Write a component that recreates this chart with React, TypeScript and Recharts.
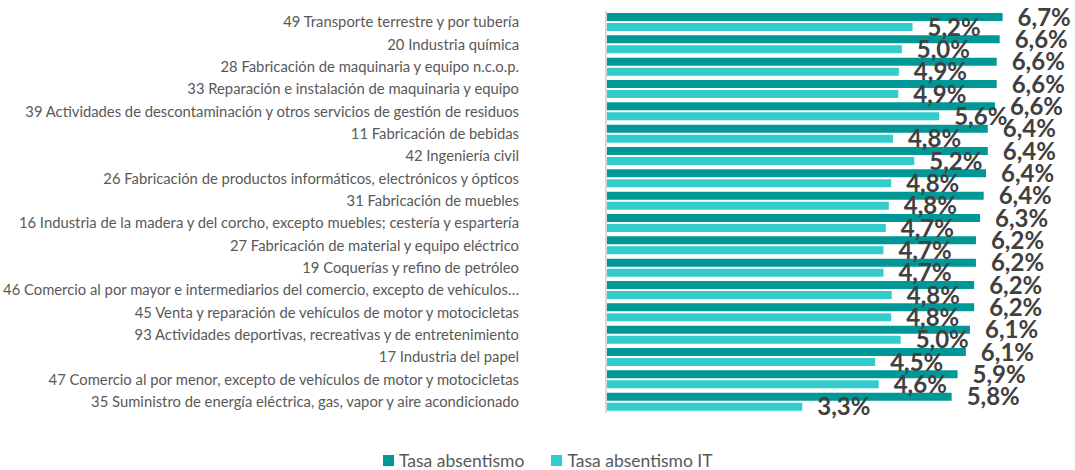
import * as React from "react";
import { BarChart, Bar, XAxis, YAxis, Legend, LabelList } from "recharts";

// Sectores (CNAE), ordenados por tasa de absentismo
const categories = [
  "49 Transporte terrestre y por tubería",
  "20 Industria química",
  "28 Fabricación de maquinaria y equipo n.c.o.p.",
  "33 Reparación e instalación de maquinaria y equipo",
  "39 Actividades de descontaminación y otros servicios de gestión de residuos",
  "11 Fabricación de bebidas",
  "42 Ingeniería civil",
  "26 Fabricación de productos informáticos, electrónicos y ópticos",
  "31 Fabricación de muebles",
  "16 Industria de la madera y del corcho, excepto muebles; cestería y espartería",
  "27 Fabricación de material y equipo eléctrico",
  "19 Coquerías y refino de petróleo",
  "46 Comercio al por mayor e intermediarios del comercio, excepto de vehículos…",
  "45 Venta y reparación de vehículos de motor y motocicletas",
  "93 Actividades deportivas, recreativas y de entretenimiento",
  "17 Industria del papel",
  "47 Comercio al por menor, excepto de vehículos de motor y motocicletas",
  "35 Suministro de energía eléctrica, gas, vapor y aire acondicionado",
];

const tasaAbsentismo = [
  6.69, 6.64, 6.59, 6.59, 6.56, 6.44, 6.44, 6.41, 6.37, 6.31, 6.24, 6.24, 6.21, 6.21, 6.14, 6.07, 5.93, 5.83,
];

const tasaAbsentismoIT = [
  5.17, 4.99, 4.94, 4.93, 5.62, 4.84, 5.2, 4.81, 4.77, 4.72, 4.68, 4.68, 4.82, 4.81, 4.97, 4.54, 4.6, 3.31,
];

const series = [
  { key: "abs", name: "Tasa absentismo", color: "#009797" },
  { key: "absIT", name: "Tasa absentismo IT", color: "#33CCCC" },
];

const data = categories.map((name, i) => ({
  name,
  abs: tasaAbsentismo[i],
  absIT: tasaAbsentismoIT[i],
}));

const fmt = (v: any) => `${Number(v).toFixed(1).replace(".", ",")}%`;

const LegendContent = () => (
  <div style={{ display: "flex", alignItems: "center", paddingLeft: 383, fontFamily: "Lato, sans-serif" }}>
    {series.map((s, i) => (
      <div key={s.key} style={{ display: "flex", alignItems: "center", marginRight: i === 0 ? 27 : 0 }}>
        <span style={{ width: 11, height: 11, background: s.color, display: "inline-block", marginRight: 5 }} />
        <span style={{ fontSize: 17.5, color: "#595959" }}>{s.name}</span>
      </div>
    ))}
  </div>
);

export default function App() {
  return (
    <div style={{ position: "absolute", left: 0, top: 0, width: 1075, height: 470, background: "#fff" }}>
      <BarChart
        width={1075}
        height={470}
        data={data}
        layout="vertical"
        margin={{ top: 11, right: 54, left: 0, bottom: 37 }}
        barSize={8}
        barGap={2}
      >
        <XAxis type="number" domain={[0, 7]} hide />
        <YAxis
          type="category"
          dataKey="name"
          width={606}
          tickLine={false}
          tickSize={0}
          tickMargin={87}
          axisLine={{ stroke: "#d9d9d9", strokeWidth: 2 }}
          tick={{ fill: "#595959", fontSize: 14.8, fontFamily: "Lato, sans-serif" }}
          interval={0}
        />
        <Legend
          verticalAlign="bottom"
          height={20}
          content={<LegendContent />}
          wrapperStyle={{ bottom: 0, left: 0, width: 1075, height: 20 }}
        />
        {series.map((s) => (
          <Bar key={s.key} dataKey={s.key} name={s.name} fill={s.color} isAnimationActive={false}>
            <LabelList
              dataKey={s.key}
              position="right"
              offset={15}
              formatter={fmt}
              style={{ fill: "#404040", fontSize: 24, fontWeight: 700, fontFamily: "Lato, sans-serif" }}
            />
          </Bar>
        ))}
      </BarChart>
    </div>
  );
}
